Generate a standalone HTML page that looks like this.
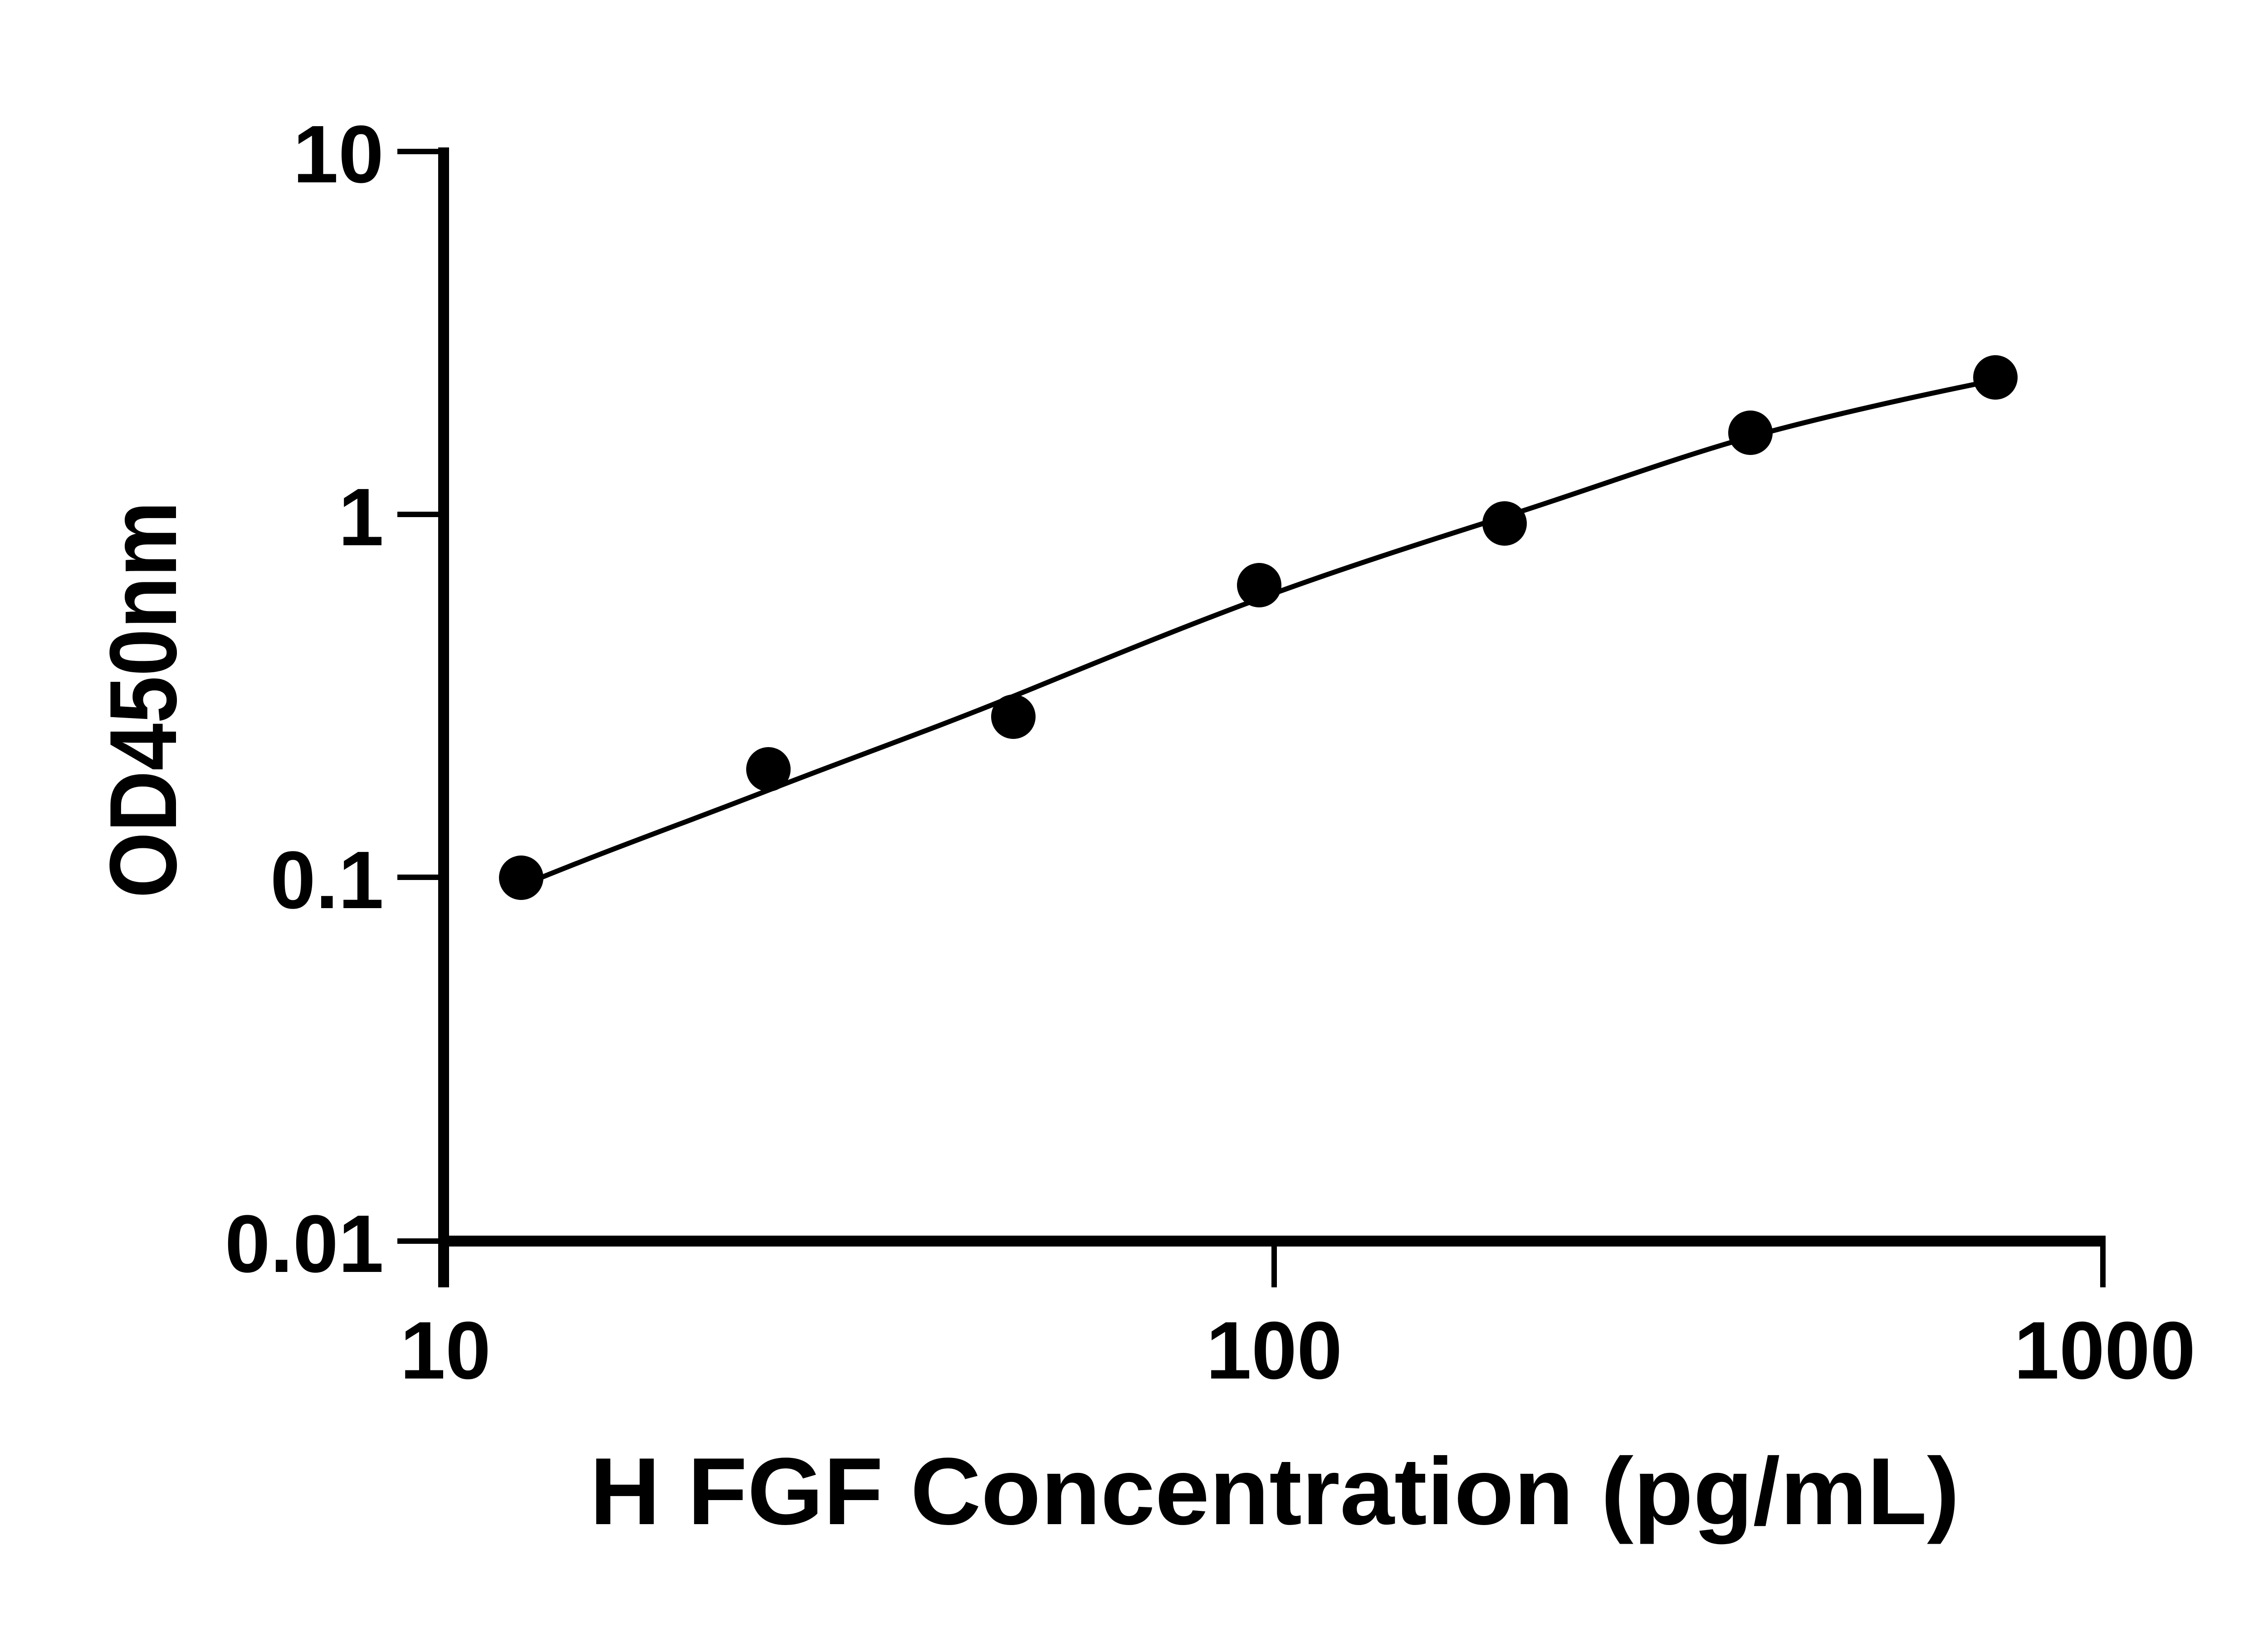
<!DOCTYPE html>
<html><head><meta charset="utf-8"><style>html,body{margin:0;padding:0;background:#fff}svg{display:block}</style></head>
<body>
<svg width="5130" height="3600" viewBox="0 0 5130 3600" xmlns="http://www.w3.org/2000/svg">
<g stroke="#000" fill="none">
<line x1="978" y1="325" x2="978" y2="2838" stroke-width="24"/>
<line x1="966" y1="2736" x2="4636" y2="2736" stroke-width="24"/>
<line x1="876" y1="334" x2="978" y2="334" stroke-width="12"/>
<line x1="876" y1="1134" x2="978" y2="1134" stroke-width="12"/>
<line x1="876" y1="1934" x2="978" y2="1934" stroke-width="12"/>
<line x1="876" y1="2736" x2="978" y2="2736" stroke-width="12"/>
<line x1="980" y1="2736" x2="980" y2="2838" stroke-width="12"/>
<line x1="2809" y1="2736" x2="2809" y2="2838" stroke-width="12"/>
<line x1="4636" y1="2724" x2="4636" y2="2838" stroke-width="12"/>
<path d="M1160,1948 C1350,1870 1520,1810 1694,1742 S2050,1610 2234,1535 S2600,1385 2776,1320 S3140,1195 3317,1139 S3690,1010 3859,963 S4250,868 4399,838" stroke-width="11"/>
</g>
<g fill="#000">
<circle cx="1149" cy="1935" r="49"/>
<circle cx="1694" cy="1696" r="49"/>
<circle cx="2234" cy="1580" r="49"/>
<circle cx="2776" cy="1290" r="49"/>
<circle cx="3317" cy="1154" r="49"/>
<circle cx="3859" cy="954" r="49"/>
<circle cx="4399" cy="832" r="49"/>
</g>
<g font-family="Liberation Sans, sans-serif" font-weight="bold" font-size="180" fill="#000">
<text x="846" y="402" text-anchor="end">10</text>
<text x="846" y="1202" text-anchor="end">1</text>
<text x="846" y="2002" text-anchor="end">0.1</text>
<text x="846" y="2804" text-anchor="end">0.01</text>
<text x="982" y="3039" text-anchor="middle">10</text>
<text x="2809" y="3039" text-anchor="middle">100</text>
<text x="4640" y="3039" text-anchor="middle">1000</text>
<text x="1300" y="3360" font-size="210" textLength="3020" lengthAdjust="spacingAndGlyphs">H FGF Concentration (pg/mL)</text>
<text transform="translate(388,1980) rotate(-90)" font-size="210" textLength="875" lengthAdjust="spacingAndGlyphs">OD450nm</text>
</g>
</svg>
</body></html>
